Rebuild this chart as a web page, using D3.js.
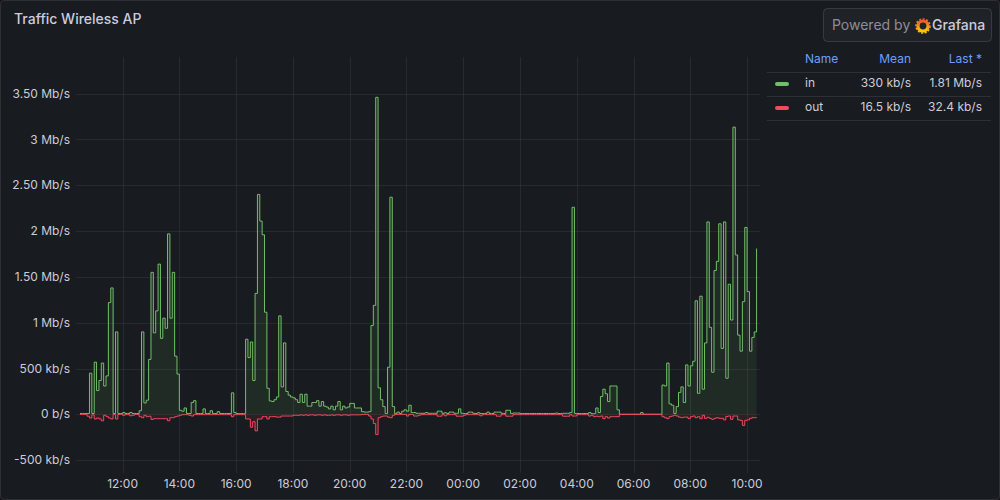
<!DOCTYPE html>
<html><head><meta charset="utf-8">
<script src="https://cdn.jsdelivr.net/npm/d3@7"></script>
<style>
html,body{margin:0;padding:0;background:#111217;}
svg{display:block;font-family:Inter,"Open Sans",sans-serif;}
</style></head><body>
<svg id="chart" width="1000" height="500"></svg>
<script>
// ---------- data ----------
const chartTitle = "Traffic Wireless AP";
const startTime = "2024-01-01T10:30:00Z";
const endTime = "2024-01-02T10:23:00Z";
const stepMinutes = 5;
// inbound traffic, Mb/s, one value every 5 minutes
const inValues = [
0.01,0.01,0.01,0.01,0.45,0.01,0.57,0.26,0.37,0.56,0.31,0.42,1.22,1.38,0.01,0.90,0.01,0.01,0.02,0.01,
0.01,0.02,0.01,0.01,0.01,0.04,0.90,0.125,0.155,0.60,1.55,0.89,1.13,1.64,0.83,1.05,0.94,1.97,1.05,1.55,
0.635,0.44,0.045,0.035,0.07,0.01,0.01,0.13,0.15,0.01,0.01,0.01,0.06,0.01,0.01,0.04,0.01,0.01,0.03,0.01,
0.01,0.01,0.01,0.01,0.235,0.02,0.01,0.008,0.008,0.008,0.82,0.62,0.79,0.37,1.32,2.40,2.11,1.96,1.115,0.285,
0.147,0.14,0.16,0.19,1.075,0.30,0.78,0.25,0.21,0.19,0.18,0.16,0.13,0.22,0.13,0.22,0.09,0.09,0.13,0.13,
0.15,0.09,0.14,0.09,0.08,0.06,0.09,0.05,0.09,0.14,0.05,0.09,0.07,0.08,0.12,0.12,0.07,0.07,0.07,0.03,
0.025,0.025,0.03,0.97,1.19,3.46,0.29,0.16,0.085,0.01,0.515,2.37,0.085,0.008,0.025,0.01,0.035,0.05,0.035,0.10,
0.02,0.02,0.012,0.012,0.012,0.012,0.02,0.012,0.012,0.012,0.012,0.035,0.035,0.012,0.018,0.01,0.025,0.025,0.012,0.012,
0.06,0.012,0.01,0.01,0.025,0.025,0.012,0.01,0.018,0.01,0.01,0.01,0.025,0.01,0.01,0.025,0.025,0.025,0.012,0.01,
0.045,0.045,0.01,0.015,0.015,0.015,0.01,0.01,0.01,0.01,0.01,0.01,0.01,0.01,0.01,0.01,0.01,0.01,0.01,0.01,
0.01,0.015,0.01,0.01,0.012,0.012,0.012,0.02,2.26,0.01,0.01,0.01,0.01,0.01,0.01,0.02,0.008,0.008,0.07,0.02,
0.195,0.275,0.225,0.14,0.31,0.31,0.31,0.05,0.002,0.002,0.002,0.002,0.002,0.002,0.002,0.002,0.002,0.02,0.002,0.002,
0.002,0.002,0.002,0.002,0.002,0.002,0.32,0.31,0.56,0.115,0.10,0.01,0.085,0.24,0.30,0.13,0.54,0.31,0.53,0.58,
1.24,0.23,1.29,0.275,0.78,2.10,0.95,0.46,1.57,1.67,2.08,0.72,2.10,0.395,1.42,1.03,3.135,1.74,0.865,0.69,
1.23,2.04,1.34,0.69,0.84,0.90,1.81
];
// outbound traffic, Mb/s (drawn below zero)
const outValues = [
0,0,0,0.02,0.04,0.005,0.05,0.04,0.05,0.07,0.01,0.025,0.04,0.05,0,0.05,0,0,0.01,0.003,
0.003,0.015,0.01,0,0,0.025,0.036,0.01,0.025,0.02,0.055,0.047,0.047,0.047,0.047,0.047,0.047,0.07,0.036,0.036,
0.025,0.018,0.01,0.003,0.003,0.003,0.01,0.018,0.003,0.003,0.003,0.003,0.003,0.003,0.003,0.003,0.003,0.003,0.003,0.003,
0.003,0.003,0.003,0.003,0.025,0.003,0.003,0.003,0.003,0.003,0.05,0.05,0.14,0.08,0.18,0.05,0.05,0.025,0.025,0.05,
0.025,0.025,0.025,0.03,0.03,0.018,0.018,0.018,0.018,0.018,0.01,0.01,0.01,0.005,0.01,0.005,0.01,0.005,0.005,0.01,
0.005,0.005,0.01,0.005,0.01,0.01,0.005,0.01,0.005,0.005,0.01,0.005,0.005,0.01,0.005,0.005,0.005,0.005,0.005,0,
0,0,0.018,0.05,0.10,0.22,0.036,0.025,0.018,0.018,0.03,0.036,0.01,0,0,0,0,0,0.018,0,
0,0.018,0.018,0.01,0.003,0.003,0.003,0.003,0.003,0.003,0.003,0.02,0.02,0.003,0.015,0.003,0.003,0.003,0.003,0.02,
0.02,0.02,0.01,0.003,0.003,0.003,0.003,0.003,0.003,0.015,0.003,0.003,0.003,0.003,0.003,0.003,0.02,0.02,0.003,0.003,
0.02,0.02,0.02,0.003,0.003,0.003,0.003,0.003,0.003,0.003,0.003,0.003,0.003,0.003,0.003,0.003,0.003,0.003,0.003,0.003,
0.003,0.003,0.003,0.003,0.02,0.02,0.02,0.003,0.018,0.018,0.003,0.003,0.003,0.003,0.003,0.018,0.01,0.025,0.02,0.025,
0.018,0.047,0.025,0.04,0.025,0.025,0.025,0.025,0.002,0.002,0.002,0.002,0.002,0.002,0.002,0.002,0.002,0.002,0.002,0.002,
0.002,0.002,0.002,0.002,0.002,0.002,0.025,0.036,0.047,0.025,0.018,0.01,0.018,0.03,0.036,0.03,0.03,0.047,0.025,0.018,
0.036,0.025,0.047,0.01,0.043,0.032,0.043,0.054,0.043,0.036,0.043,0.043,0.06,0.022,0.018,0.054,0.018,0.018,0.06,0.065,
0.12,0.065,0.06,0.043,0.036,0.036,0.032
];
const yTickValues = [-0.5,0,0.5,1,1.5,2,2.5,3,3.5];
const yTickLabels = ["-500 kb/s","0 b/s","500 kb/s","1 Mb/s","1.50 Mb/s","2 Mb/s","2.50 Mb/s","3 Mb/s","3.50 Mb/s"];
const seriesNames = ["in","out"];
const seriesColors = ["#73bf69","#f2495c"];
const legendMean = ["330 kb/s","16.5 kb/s"];
const legendLast = ["1.81 Mb/s","32.4 kb/s"];
const legendHeaders = ["Name","Mean","Last *"];

// ---------- chart ----------
const svg = d3.select("#chart");
const W = 1000, H = 500;
const plot = {left:80, right:758, top:57, bottom:468};

svg.append("rect").attr("x",0.5).attr("y",0.5).attr("width",W-1).attr("height",H-1)
  .attr("rx",3).attr("fill","#181b1f").attr("stroke","rgba(204,204,220,0.14)");

svg.append("text").attr("x",14).attr("y",20.5).attr("dominant-baseline","middle")
  .attr("fill","#ccccdc").attr("font-size",14).attr("font-weight",500).text(chartTitle);

const t0 = new Date(startTime).getTime();
const times = inValues.map((_,i)=> new Date(t0 + i*stepMinutes*60000));
const x = d3.scaleUtc().domain([new Date(startTime), new Date(endTime)]).range([plot.left, plot.right]);
const y = d3.scaleLinear().domain([-0.585, 3.9]).range([plot.bottom, plot.top]);

const grid = "rgba(204,204,220,0.09)";
const xTicks = x.ticks(d3.utcHour.every(2));
svg.append("g").selectAll("line").data(xTicks).join("line")
  .attr("x1",d=>Math.round(x(d))+0.5).attr("x2",d=>Math.round(x(d))+0.5)
  .attr("y1",plot.top).attr("y2",473).attr("stroke",grid);
svg.append("g").selectAll("line").data(yTickValues).join("line")
  .attr("x1",76).attr("x2",760)
  .attr("y1",d=>Math.round(y(d))+0.5).attr("y2",d=>Math.round(y(d))+0.5).attr("stroke",grid);

svg.append("g").selectAll("text").data(yTickValues).join("text")
  .attr("x",70).attr("y",d=>y(d)+0.8).attr("text-anchor","end").attr("dominant-baseline","middle")
  .attr("fill","#ccccdc").attr("font-size",12).text((d,i)=>yTickLabels[i]);
const fmt = d3.utcFormat("%H:%M");
svg.append("g").selectAll("text").data(xTicks).join("text")
  .attr("x",d=>x(d)).attr("y",485).attr("text-anchor","middle").attr("dominant-baseline","middle")
  .attr("fill","#ccccdc").attr("font-size",12).text(d=>fmt(d));

svg.append("clipPath").attr("id","clip").append("rect")
  .attr("x",plot.left).attr("y",plot.top-2).attr("width",plot.right-plot.left+1).attr("height",plot.bottom-plot.top+4);
const gData = svg.append("g").attr("clip-path","url(#clip)");

const series = [
  {vals: inValues, sign: 1, color: seriesColors[0]},
  {vals: outValues, sign: -1, color: seriesColors[1]}
];
series.forEach(s=>{
  const pts = s.vals.map((v,i)=>[times[i], s.sign*v]);
  const area = d3.area().curve(d3.curveStepAfter).x(d=>x(d[0])).y0(y(0)).y1(d=>y(d[1]));
  gData.append("path").attr("d",area(pts)).attr("fill",s.color).attr("fill-opacity",0.1);
});
series.forEach(s=>{
  const pts = s.vals.map((v,i)=>[times[i], s.sign*v]);
  const line = d3.line().curve(d3.curveStepAfter).x(d=>x(d[0])).y(d=>y(d[1]));
  gData.append("path").attr("d",line(pts)).attr("fill","none").attr("stroke",s.color).attr("stroke-width",1);
});

// ---------- legend ----------
const lg = svg.append("g");
const hdrColor = "#6e9fff";
lg.append("text").attr("x",805).attr("y",60).attr("fill",hdrColor).attr("font-size",12).attr("dominant-baseline","middle").text(legendHeaders[0]);
lg.append("text").attr("x",911).attr("y",60).attr("fill",hdrColor).attr("font-size",12).attr("text-anchor","end").attr("dominant-baseline","middle").text(legendHeaders[1]);
lg.append("text").attr("x",982).attr("y",60).attr("fill",hdrColor).attr("font-size",12).attr("text-anchor","end").attr("dominant-baseline","middle").text(legendHeaders[2]);
[72,96,120].forEach(yy=>lg.append("line").attr("x1",767).attr("x2",991).attr("y1",yy+0.5).attr("y2",yy+0.5).attr("stroke","rgba(204,204,220,0.12)"));
seriesNames.forEach((n,i)=>{
  const yy = 84 + i*24;
  lg.append("rect").attr("x",775).attr("y",yy-2).attr("width",14).attr("height",4).attr("rx",2).attr("fill",seriesColors[i]);
  lg.append("text").attr("x",805).attr("y",yy).attr("fill","#ccccdc").attr("font-size",12).attr("dominant-baseline","middle").text(n);
  lg.append("text").attr("x",911).attr("y",yy).attr("fill","#ccccdc").attr("font-size",12).attr("text-anchor","end").attr("dominant-baseline","middle").text(legendMean[i]);
  lg.append("text").attr("x",982).attr("y",yy).attr("fill","#ccccdc").attr("font-size",12).attr("text-anchor","end").attr("dominant-baseline","middle").text(legendLast[i]);
});

// ---------- powered by ----------
const pb = svg.append("g");
pb.append("rect").attr("x",823.5).attr("y",8.5).attr("width",168).attr("height",33).attr("rx",4)
  .attr("fill","#1f2227").attr("stroke","rgba(204,204,220,0.16)");
pb.append("text").attr("x",832).attr("y",26).attr("dominant-baseline","middle").attr("font-size",14)
  .attr("fill","#8e8e99").text("Powered by");
const defs = svg.append("defs");
const grad = defs.append("linearGradient").attr("id","gf").attr("x1","0").attr("y1","1").attr("x2","0").attr("y2","0");
grad.append("stop").attr("offset","0").attr("stop-color","#fbca0a");
grad.append("stop").attr("offset","1").attr("stop-color","#f05a28");
pb.append("circle").attr("cx",923).attr("cy",26).attr("r",5).attr("fill","none").attr("stroke","url(#gf)").attr("stroke-width",3.2);
pb.append("circle").attr("cx",923).attr("cy",26).attr("r",7).attr("fill","none").attr("stroke","url(#gf)").attr("stroke-width",1.6).attr("stroke-dasharray","2 1.6");
pb.append("text").attr("x",932).attr("y",26).attr("dominant-baseline","middle").attr("font-size",14)
  .attr("fill","#ccccdc").attr("font-weight",500).text("Grafana");
</script>
</body></html>
